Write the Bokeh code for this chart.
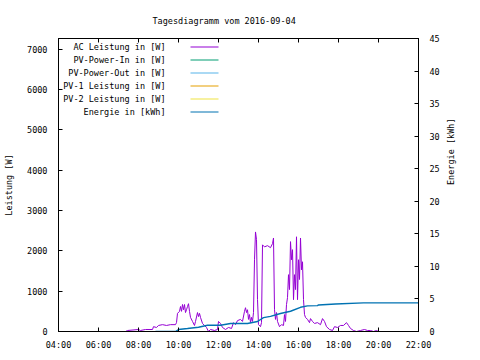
from bokeh.plotting import figure
from bokeh.models import Range1d, LinearAxis, FixedTicker, Label, Arrow
from bokeh.embed import file_html
from bokeh.resources import INLINE

title_text = "Tagesdiagramm vom 2016-09-04"
ylabel_left = "Leistung [W]"
ylabel_right = "Energie [kWh]"

series_names = ["AC Leistung in [W]", "PV-Power-In in [W]", "PV-Power-Out in [W]",
                "PV-1 Leistung in [W]", "PV-2 Leistung in [W]", "Energie in [kWh]"]
series_colors = ["#9400D3", "#009E73", "#56B4E9", "#E69F00", "#F0E442", "#0072B2"]

# AC Leistung (hour of day, W)
ac_hours = [7.35, 7.45, 8.0, 8.1, 8.35, 8.7, 8.75, 8.9, 9.0, 9.2, 9.4, 9.6, 9.85, 9.9, 9.95,
            10.05, 10.1, 10.15, 10.2, 10.25, 10.3, 10.35, 10.4, 10.45, 10.5, 10.55, 10.6, 10.7,
            10.8, 10.85, 10.95, 11.0, 11.05, 11.1, 11.2, 11.3, 11.4, 11.5, 11.6, 11.8, 11.95,
            12.0, 12.1, 12.2, 12.35, 12.5, 12.65, 12.75, 12.85, 12.95, 13.1, 13.2, 13.3, 13.35,
            13.4, 13.45, 13.5, 13.55, 13.6, 13.65, 13.7, 13.75, 13.8, 13.85, 13.9, 13.95, 14.0,
            14.1, 14.15, 14.2, 14.3, 14.45, 14.6, 14.7, 14.75, 14.8, 14.85, 14.9, 14.95, 15.05,
            15.15, 15.25, 15.3, 15.35, 15.4, 15.45, 15.5, 15.55, 15.6, 15.65, 15.7, 15.75, 15.8,
            15.85, 15.9, 15.95, 16.0, 16.05, 16.1, 16.15, 16.2, 16.25, 16.3, 16.35, 16.45, 16.55,
            16.6, 16.7, 16.8, 16.95, 17.1, 17.2, 17.3, 17.4, 17.55, 17.7, 17.8, 17.95, 18.1,
            18.25, 18.4, 18.5, 18.6, 18.75, 18.9, 19.1, 19.3, 19.45, 19.6, 19.75, 19.9, 20.0]
ac_watts = [0, 25, 50, 25, 50, 50, 120, 100, 150, 170, 150, 170, 170, 220, 450,
            500, 620, 500, 670, 540, 670, 470, 540, 620, 690, 500, 350, 250,
            150, 250, 470, 370, 450, 350, 200, 150, 100, 0, 50, 25, 50,
            250, 200, 100, 50, 100, 75, 220, 170, 270, 300, 250, 500, 590,
            470, 540, 300, 420, 220, 350, 250, 470, 1780, 2470, 2280, 790, 170,
            120, 220, 2150, 2100, 2130, 2080, 2180, 2320, 540, 300, 470, 250, 120,
            170, 150, 420, 250, 670, 840, 1410, 1040, 2230, 1780, 2030, 790, 1410,
            1040, 2350, 790, 1780, 1290, 2320, 1530, 1730, 790, 420, 350, 300, 220,
            320, 250, 200, 220, 170, 320, 250, 120, 50, 25, 120, 100, 150,
            150, 220, 150, 75, 25, 0, 25, 50, 25, 25, 0, 25, 0]

# Energie (hour of day, kWh)
energy_hours = [8.85, 9.85, 10.0, 10.45, 11.0, 11.45, 12.1, 12.6, 13.45, 13.7, 13.95, 14.25,
                14.6, 15.1, 15.6, 16.1, 16.45, 16.95, 17.0, 17.85, 19.25, 22.0]
energy_kwh = [0.0, 0.0, 0.3, 0.46, 0.66, 0.96, 0.96, 1.22, 1.22, 1.38, 1.53, 2.14,
              2.33, 2.76, 3.11, 3.72, 3.93, 3.98, 4.08, 4.23, 4.39, 4.39]

x_ticks = [4, 6, 8, 10, 12, 14, 16, 18, 20, 22]
x_tick_labels = ["04:00", "06:00", "08:00", "10:00", "12:00", "14:00", "16:00",
                 "18:00", "20:00", "22:00"]
y_ticks = [0, 1000, 2000, 3000, 4000, 5000, 6000, 7000]
y2_ticks = [0, 5, 10, 15, 20, 25, 30, 35, 40, 45]

FONT = "DejaVu Sans Mono"
FS = "8.5px"

p = figure(width=472, height=352, output_backend="svg", toolbar_location=None,
           x_range=Range1d(4, 22), y_range=Range1d(0, 7270),
           min_border_left=58, min_border_right=54, min_border_top=38, min_border_bottom=20)
p.extra_y_ranges = {"energy": Range1d(0, 45)}
p.xgrid.visible = False
p.ygrid.visible = False
p.outline_line_color = "black"
p.outline_line_alpha = 1
p.background_fill_color = "white"
p.border_fill_color = "white"

p.title.text = title_text
p.title.align = "left"
p.title.offset = 94
p.title.standoff = 26
p.title.text_font = FONT
p.title.text_font_size = FS
p.title.text_font_style = "normal"
p.title.text_color = "black"


def style_axis(ax, standoff, show_labels=True):
    ax.axis_line_color = "black"
    ax.major_tick_line_color = "black"
    ax.major_tick_in = 4
    ax.major_tick_out = 0
    ax.minor_tick_line_color = None
    ax.major_label_text_font = FONT
    ax.major_label_text_font_size = FS
    ax.major_label_text_color = "black" if show_labels else None
    ax.major_label_standoff = standoff
    ax.axis_label_text_font = FONT
    ax.axis_label_text_font_size = FS
    ax.axis_label_text_font_style = "normal"
    ax.axis_label_text_color = "black"


xa = p.xaxis[0]
xa.ticker = FixedTicker(ticks=x_ticks)
xa.major_label_overrides = {t: l for t, l in zip(x_ticks, x_tick_labels)}
style_axis(xa, 8)

ya = p.yaxis[0]
ya.ticker = FixedTicker(ticks=y_ticks)
style_axis(ya, 11)
ya.axis_label = ylabel_left
ya.axis_label_standoff = 10

top = LinearAxis(ticker=FixedTicker(ticks=x_ticks))
style_axis(top, 0, show_labels=False)
p.add_layout(top, "above")

y2 = LinearAxis(y_range_name="energy", ticker=FixedTicker(ticks=y2_ticks))
style_axis(y2, 11)
y2.axis_label = ylabel_right
y2.axis_label_standoff = 8
y2.axis_label_orientation = 1.5708
p.add_layout(y2, "right")

p.line(ac_hours, ac_watts, line_color=series_colors[0], line_width=1)
p.line(energy_hours, energy_kwh, line_color=series_colors[5], line_width=1.4,
       y_range_name="energy")

for i, (name, color) in enumerate(zip(series_names, series_colors)):
    yy = 284.5 - 13 * i
    p.add_layout(Label(x=107, y=yy, x_units="screen", y_units="screen", text=name,
                       text_font=FONT, text_font_size=FS, text_color="black",
                       text_align="right", text_baseline="middle"))
    p.add_layout(Arrow(x_start=132, y_start=yy, x_end=160, y_end=yy,
                       start_units="screen", end_units="screen", end=None,
                       line_color=color, line_width=1.2))

open("out.html", "w").write(file_html(p, INLINE))
